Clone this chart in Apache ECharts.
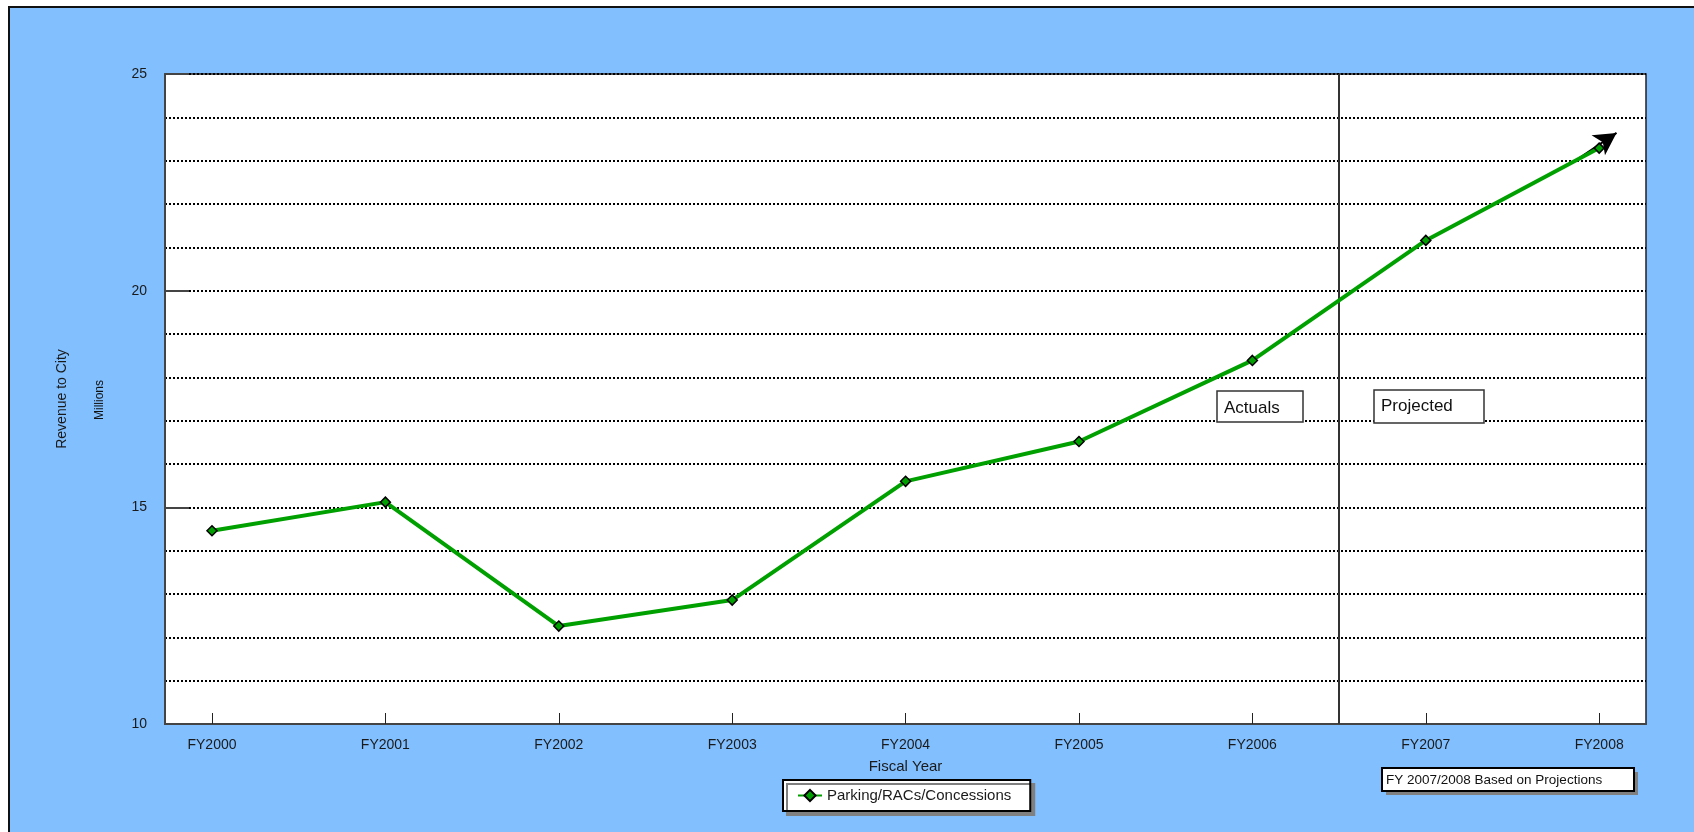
<!DOCTYPE html>
<html>
  <head>
    <meta charset="utf-8">
    <title>Revenue to City</title>
    <style media="screen">
    html, body {margin:0; padding:0; background:#fff}
    #main {width:1694px; height:832px}
    </style>
    <script src="https://cdn.jsdelivr.net/npm/echarts@6/dist/echarts.min.js" charset="utf-8"></script>
  </head>
  <body>
    <div id="main"></div>
    <script>
    // data (millions)
    const years=['FY2000','FY2001','FY2002','FY2003','FY2004','FY2005','FY2006','FY2007','FY2008'];
    const revenue=[14.46, 15.12, 12.26, 12.86, 15.60, 16.52, 18.39, 21.16, 23.29];
    const yTicks=[10, 15, 20, 25];
    const seriesName='Parking/RACs/Concessions';

    const font='"Liberation Sans", Arial, sans-serif';
    const green='#00a000';

    let chart=echarts.init(document.getElementById('main'));

    let option={
      backgroundColor: '#fff',
      animation: false,
      textStyle: {fontFamily: font},
      grid: {
        left: 165, top: 74, width: 1481, height: 650,
        show: true, backgroundColor: '#fff', borderColor: '#222', borderWidth: 1.5
      },
      xAxis: {
        type: 'value',
        min: -0.271, max: 8.27,
        name: 'Fiscal Year',
        nameLocation: 'middle',
        nameGap: 35,
        nameTextStyle: {color: '#1a1a1a', fontSize: 15, fontFamily: font},
        axisLine: {onZero: false, lineStyle: {color: '#444', width: 2}},
        axisTick: {show: true, inside: true, length: 11, customValues: years.map((y, i)=>i), lineStyle: {color: '#222', width: 1}},
        axisLabel: {customValues: years.map((y, i)=>i), formatter: v=>years[Math.round(v)], color: '#1a1a1a', fontSize: 14, margin: 14, fontFamily: font},
        splitLine: {show: false}
      },
      yAxis: [
        {
          type: 'value',
          min: 10, max: 25, interval: 1,
          name: 'Revenue to City',
          nameLocation: 'middle',
          nameGap: 96,
          nameTextStyle: {color: '#1a1a1a', fontSize: 14, fontFamily: font},
          axisLine: {show: true, onZero: false, lineStyle: {color: '#444', width: 2}},
          axisTick: {show: false},
          axisLabel: {formatter: v=>(yTicks.indexOf(v)>=0 ? String(v) : ''), color: '#1a1a1a', fontSize: 14, margin: 18, fontFamily: font},
          splitLine: {show: true, lineStyle: {color: '#000', type: [2, 2], width: 2}}
        },
        {
          // only carries the long inner ticks at 10/15/20/25
          type: 'value',
          position: 'left',
          min: 10, max: 25, interval: 5,
          axisLine: {show: false, onZero: false},
          axisTick: {show: true, inside: true, length: 24, lineStyle: {color: '#444', width: 2}},
          axisLabel: {show: false},
          splitLine: {show: false}
        }
      ],
      legend: {
        left: 783, top: 780,
        data: [seriesName],
        backgroundColor: '#fff',
        borderColor: '#000', borderWidth: 2,
        padding: [8, 19, 8, 14],
        itemWidth: 24, itemHeight: 14,
        shadowColor: '#808080', shadowOffsetX: 4, shadowOffsetY: 4, shadowBlur: 0,
        textStyle: {color: '#1a1a1a', fontSize: 15, fontFamily: font}
      },
      series: [
        {
          name: seriesName,
          type: 'line',
          data: revenue.map((v, i)=>[i, v]),
          symbol: 'diamond',
          symbolSize: 10,
          itemStyle: {color: green, borderColor: '#000', borderWidth: 1.5},
          lineStyle: {color: green, width: 4},
          z: 5,
          markLine: {
            silent: true,
            symbol: ['none', 'none'],
            label: {show: false},
            data: [
              [{coord: [6.5, 10], lineStyle: {color: '#333', width: 2, type: 'solid'}}, {coord: [6.5, 25]}],
              [{coord: [7.87, 23.02], symbol: 'none', lineStyle: {color: '#000', width: 2, type: 'solid'}},
               {coord: [8.1, 23.64], symbol: 'arrow', symbolSize: [18, 22]}]
            ]
          }
        }
      ],
      graphic: [
        // outer frame
        {type: 'rect', z: -10, shape: {x: 9, y: 7, width: 1700, height: 840}, style: {fill: '#82bfff', stroke: '#111', lineWidth: 2}},
        {type: 'text', z: 10, x: 100, y: 400, rotation: Math.PI/2,
          style: {text: 'Millions', font: '12px ' + font, fill: '#111', align: 'center', verticalAlign: 'middle'}},
        // Actuals / Projected boxes
        {type: 'rect', z: 10, shape: {x: 1217, y: 391, width: 86, height: 31}, style: {fill: '#fff', stroke: '#333', lineWidth: 1.5}},
        {type: 'text', z: 11, x: 1224, y: 408, style: {text: 'Actuals', font: '17px ' + font, fill: '#111', verticalAlign: 'middle'}},
        {type: 'rect', z: 10, shape: {x: 1374, y: 390, width: 110, height: 33}, style: {fill: '#fff', stroke: '#333', lineWidth: 1.5}},
        {type: 'text', z: 11, x: 1381, y: 406, style: {text: 'Projected', font: '17px ' + font, fill: '#111', verticalAlign: 'middle'}},
        // note box
        {type: 'rect', z: 10, shape: {x: 1386, y: 772, width: 252, height: 23}, style: {fill: '#808080'}},
        {type: 'rect', z: 11, shape: {x: 1382, y: 768, width: 252, height: 23}, style: {fill: '#fff', stroke: '#000', lineWidth: 2}},
        {type: 'text', z: 12, x: 1386, y: 780, style: {text: 'FY 2007/2008 Based on Projections', font: '13.5px ' + font, fill: '#111', verticalAlign: 'middle'}}
      ]
    };

    chart.setOption(option);
    </script>
  </body>
</html>
